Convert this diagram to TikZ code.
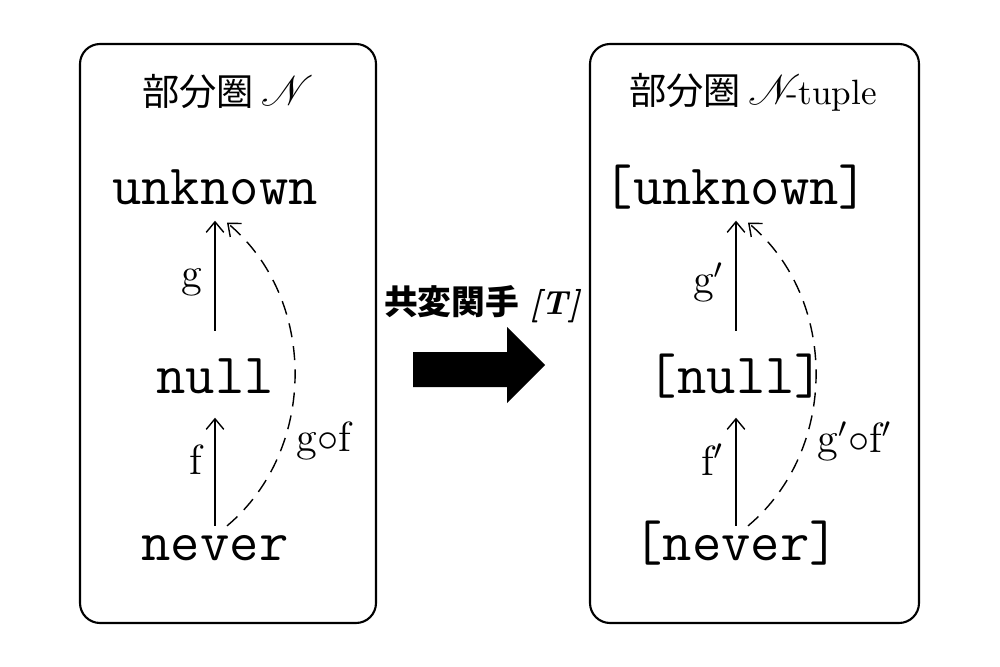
\documentclass[tikz,border=0pt]{standalone}
\usepackage{amsmath, amssymb}
\usepackage{mathrsfs}
\usepackage{fontspec}
\newfontfamily\jpfont{Noto Sans CJK JP}
\usepackage{tikz}
\usetikzlibrary{positioning}
\usetikzlibrary{arrows.meta}
\newcommand{\catN}{{\fontsize{13}{15}\selectfont$\mathscr{N}$}}
\tikzset{
    >={Straight Barb[length = 3pt, width = 5pt]},
    obj/.style = {font = \fontsize{16.2}{18}\ttfamily, inner sep = 0pt, text height = 9.5pt, text depth = 0pt, anchor = base},
    maplabel/.style = {font = \fontsize{12}{14}\selectfont},
    composite/.style = {->, dashed, dash pattern = on 4pt off 2.6pt},
    catbox/.style = {draw = black, line width = 0.6pt, rounded corners = 0.2cm},
    title/.style = {font = \fontsize{10.6}{12}\selectfont},
}

\begin{document}
\begin{tikzpicture}[x = 0.01cm, y = -0.01cm]
\useasboundingbox (0,0) rectangle (1000,667);
% left category
\draw[catbox] (80,44) rectangle (376,623);
\node[title] (titleL) at (228,92) {{\jpfont 部分圏}\hspace{2pt}\catN};
\node[obj] (unknownL) at (215,205) {unknown};
\node[obj] (nullL) at (215,393) {null};
\node[obj] (neverL) at (215,560) {never};
\draw[->, shorten < = 0.28cm, shorten > = 0.15cm] (nullL) -- node[maplabel, anchor = east] {g} (unknownL);
\draw[->, shorten > = 0.24cm] (neverL) -- node[maplabel, anchor = east, pos = 0.5] {f} (nullL);
\draw[composite] ([xshift = 0.12cm]neverL.north) to[bend right = 50] node[maplabel, pos = 0.3, anchor = west] {g$\circ$f} ([xshift = 0.12cm, yshift = -0.17cm]unknownL.south);
% functor
\fill (413,352) -- (507,352) -- (507,327) -- (545,365) -- (507,403) -- (507,387) -- (413,387) -- cycle;
\node[font = \fontsize{9.6}{12}\selectfont] (functor) at (482,304) {{\jpfont\bfseries 共変関手}\hspace{3pt}{\fontsize{9.5}{11}\selectfont\bfseries\itshape [T]}};
% right category
\draw[catbox] (590,44) rectangle (919,623);
\node[title] (titleR) at (753,92) {{\jpfont 部分圏}\hspace{2pt}\catN\kern-4pt{\fontsize{10}{12}\selectfont -tuple}};
\node[obj] (unknownR) at (736,205) {[unknown]};
\node[obj] (nullR) at (736,393) {[null]};
\node[obj] (neverR) at (736,560) {[never]};
\draw[->, shorten < = 0.28cm, shorten > = 0.15cm] (nullR) -- node[maplabel, anchor = east] {g$'$} (unknownR);
\draw[->, shorten > = 0.24cm] (neverR) -- node[maplabel, anchor = east, pos = 0.5] {f$'$} (nullR);
\draw[composite] ([xshift = 0.12cm]neverR.north) to[bend right = 50] node[maplabel, pos = 0.3, anchor = west] {g$'\circ$f$'$} ([xshift = 0.12cm, yshift = -0.17cm]unknownR.south);
\end{tikzpicture}
\end{document}
